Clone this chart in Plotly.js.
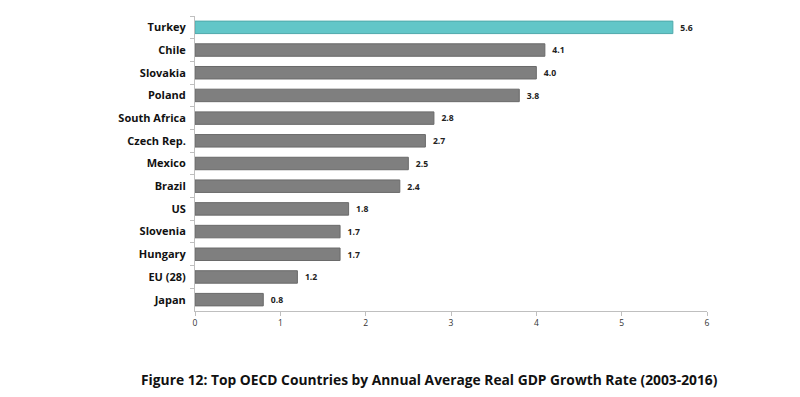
<!DOCTYPE html>
<html><head><meta charset="utf-8">
<script src="https://cdn.plot.ly/plotly-3.0.1.min.js"></script>
<style>html,body{margin:0;padding:0;background:#fff;}#chart{width:800px;height:397px;}</style>
</head><body><div id="chart"></div>
<script>
const countries = ["Turkey","Chile","Slovakia","Poland","South Africa","Czech Rep.","Mexico","Brazil","US","Slovenia","Hungary","EU (28)","Japan"];
const growth = [5.6,4.1,4.0,3.8,2.8,2.7,2.5,2.4,1.8,1.7,1.7,1.2,0.8];
const xTicks = [0,1,2,3,4,5,6];
const titleText = "Figure 12: Top OECD Countries by Annual Average Real GDP Growth Rate (2003-2016)";

const colors = countries.map((c,i)=> i===0 ? "#62C6C8" : "#7F7F7F");
const lineColors = countries.map((c,i)=> i===0 ? "#4FA9AB" : "#6A6A6A");

const trace = {
  type: "bar", orientation: "h",
  y: countries, x: growth,
  marker: {color: colors, line: {color: lineColors, width: 1}},
  width: 0.55,
  text: growth.map(v=>"  " + v.toFixed(1)),
  textposition: "outside",
  textfont: {family: "Open Sans, sans-serif", size: 9, color: "#222", weight: "bold"},
  cliponaxis: false,
  hoverinfo: "none"
};

const layout = {
  width: 800, height: 397,
  margin: {l: 195, r: 93, t: 16, b: 86},
  paper_bgcolor: "#fff", plot_bgcolor: "#fff",
  showlegend: false,
  xaxis: {
    range: [0, 6], tickvals: xTicks, ticktext: xTicks.map(String),
    showgrid: false, zeroline: false,
    showline: true, linecolor: "#BFBFBF", linewidth: 1,
    ticks: "outside", ticklen: 4, tickcolor: "#BFBFBF",
    tickfont: {family: "Open Sans, sans-serif", size: 8.5, color: "#333"}
  },
  yaxis: {
    autorange: "reversed", type: "category",
    showgrid: false, zeroline: false,
    showline: true, linecolor: "#BFBFBF", linewidth: 1,
    ticks: "outside", ticklen: 4, tickcolor: "#BFBFBF", tickson: "boundaries",
    ticklabelstandoff: 6,
    tickfont: {family: "Open Sans, sans-serif", size: 11, color: "#111", weight: "bold"}
  },
  annotations: [{
    text: titleText, xref: "paper", yref: "paper",
    x: (429-195)/512, y: -(379-311)/295, xanchor: "center", yanchor: "middle",
    showarrow: false,
    font: {family: "Open Sans, sans-serif", size: 13.8, color: "#111", weight: "bold"}
  }]
};

Plotly.newPlot("chart", [trace], layout, {staticPlot: true, displayModeBar: false});
</script></body></html>
